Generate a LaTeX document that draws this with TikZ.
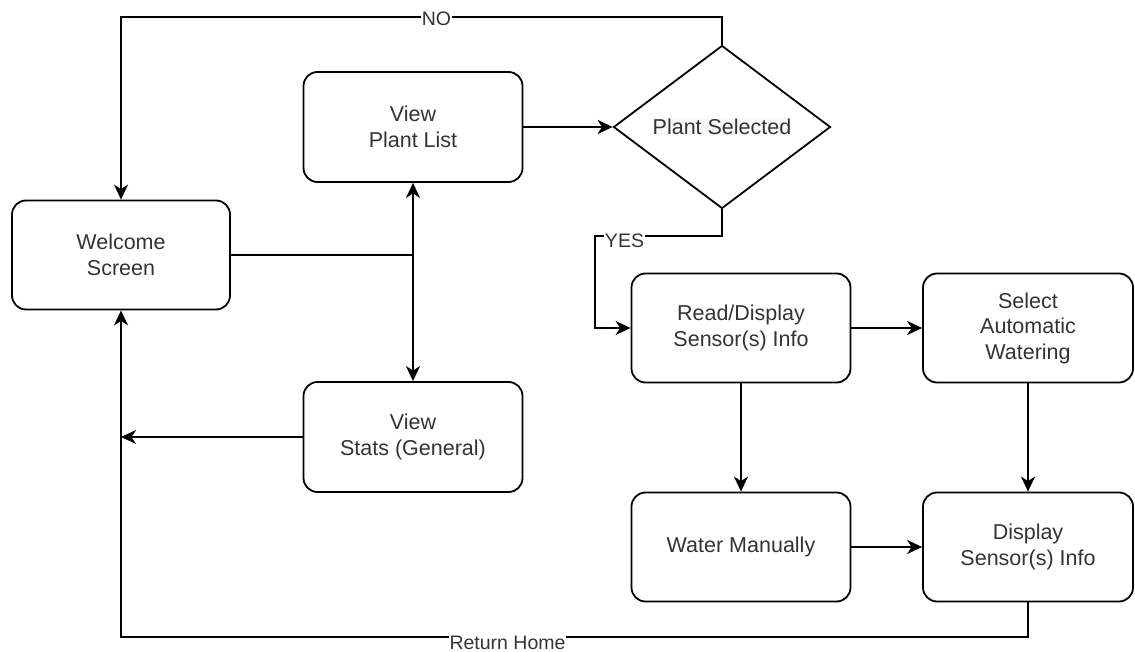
\documentclass[tikz,border=0pt]{standalone}
\usepackage{fontspec}
\setmainfont{Liberation Sans}
\usetikzlibrary{shapes.geometric,arrows.meta}
\begin{document}
\begin{tikzpicture}[x=1pt,y=-1pt,
  every node/.style={font=\fontsize{21.5}{25.5}\selectfont, text=black!80},
  box/.style={draw=black, line width=1.8pt, rounded corners=14pt, align=center,
    minimum height=109pt, inner sep=0pt},
  dec/.style={draw=black, line width=1.8pt, shape=diamond, align=center,
    minimum width=217pt, minimum height=163pt, inner sep=0pt},
  conn/.style={draw=black, line width=2pt},
  arr/.style={conn, -{Stealth[length=15pt,width=14pt,inset=4.5pt]}},
  lab/.style={fill=white, inner sep=0.5pt, font=\fontsize{19.5}{22}\selectfont, text=black!80}
]
\useasboundingbox (0,0) rectangle (1135,652);

% nodes
\node[box, minimum width=218pt] (ws) at (121,255) {Welcome\\Screen};
\node[box, minimum width=219pt, minimum height=110pt] (vpl) at (413,127) {View\\Plant List};
\node[box, minimum width=219pt, minimum height=110pt] (vs) at (413,437) {View\\Stats (General)};
\node[dec] (ps) at (722,127) {{\setlength\fboxsep{1pt}\colorbox{black!2.5}{Plant Selected}}};
\node[box, minimum width=219pt] (rd) at (741,328) {Read/Display\\Sensor(s) Info};
\node[box, minimum width=210pt] (sel) at (1028,328) {Select\\Automatic\\Watering};
\node[box, minimum width=219pt] (wm) at (741,547) {Water Manually};
\node[box, minimum width=210pt] (dsp) at (1028,547) {Display\\Sensor(s) Info};

% helper coordinates
\coordinate (j) at (vpl.south |- ws.east);
\coordinate (notop) at (722,17);
\coordinate (yesc) at (595,236);
\coordinate (vsend) at (ws.south |- vs.west);
\coordinate (rhc) at (1028,637);

% connectors
\draw[conn] (ws.east) -- (j);
\draw[arr] (j) -- (vpl.south);
\draw[arr] (j) -- (vs.north);
\draw[arr] (vpl.east) -- (ps.west);
\draw[arr] (ps.north) -- (notop) -| (ws.north);
\draw[arr] (ps.south) |- (yesc) |- (rd.west);
\draw[arr] (rd.east) -- (sel.west);
\draw[arr] (sel.south) -- (dsp.north);
\draw[arr] (rd.south) -- (wm.north);
\draw[arr] (wm.east) -- (dsp.west);
\draw[arr] (vs.west) -- (vsend);
\draw[arr] (dsp.south) -- (rhc) -| (ws.south);

% labels
\node[lab] (nolab) at (436.5,19) {NO};
\node[lab] (yeslab) at (624.5,241) {YES};
\node[lab] (rhlab) at (507.5,642.5) {Return Home};
\end{tikzpicture}
\end{document}
